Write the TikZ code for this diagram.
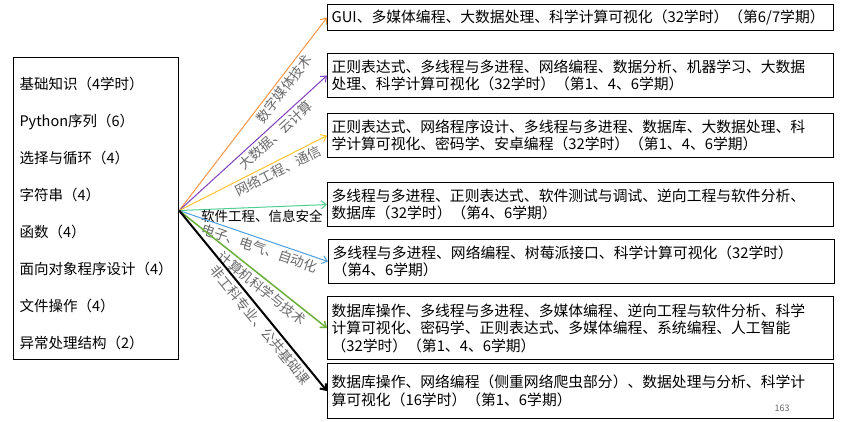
\documentclass[tikz,border=0pt]{standalone}
\usepackage{fontspec}
\setmainfont{Noto Sans CJK SC}
\usetikzlibrary{arrows.meta}
\definecolor{corange}{HTML}{F79646}
\definecolor{cpurple}{HTML}{8040C0}
\definecolor{cyellow}{HTML}{FFC52F}
\definecolor{cmint}{HTML}{50D090}
\definecolor{cblue}{HTML}{4EA0E0}
\definecolor{cgreen}{HTML}{6AAF3A}
\definecolor{lblgray}{HTML}{6A6A6A}
\tikzset{
  box/.style={draw=black, line width=1.1pt, anchor=north west, minimum width=506pt,
    text width=498pt, align=left, inner xsep=4pt, inner ysep=2pt,
    font=\fontsize{14.8}{17.5}\selectfont},
  leftbox/.style={draw=black, line width=1.1pt, anchor=north west, minimum width=164pt,
    minimum height=302pt, align=left, inner xsep=6pt,
    font=\fontsize{14.5}{37}\selectfont},
  arr/.style={-{Straight Barb[length=5pt,width=8pt]}, line width=1pt},
  lbl/.style={sloped, below, text=lblgray, font=\fontsize{13.5}{15}\selectfont, inner sep=2.5pt},
}
\begin{document}
\begin{tikzpicture}[x=1pt, y=-1pt]
\useasboundingbox (0,0) rectangle (842,422);
\fill[white] (0,0) rectangle (842,422);

\node[leftbox] (L) at (13,57) {\rule{0pt}{22pt}基础知识（4学时）\\Python序列（6）\\选择与循环（4）\\字符串（4）\\函数（4）\\面向对象程序设计（4）\\文件操作（4）\\异常处理结构（2）};

\node[box, minimum height=26pt] (b1) at (327,4) {GUI、多媒体编程、大数据处理、科学计算可视化（32学时）（第6/7学期）};
\node[box, minimum height=44pt] (b2) at (327,53) {正则表达式、多线程与多进程、网络编程、数据分析、机器学习、大数据\\处理、科学计算可视化（32学时）（第1、4、6学期）};
\node[box, minimum height=44pt] (b3) at (327,113) {正则表达式、网络程序设计、多线程与多进程、数据库、大数据处理、科\\学计算可视化、密码学、安卓编程（32学时）（第1、4、6学期）};
\node[box, minimum height=44pt] (b4) at (327,182) {多线程与多进程、正则表达式、软件测试与调试、逆向工程与软件分析、\\数据库（32学时）（第4、6学期）};
\node[box, minimum height=44pt] (b5) at (328,239) {多线程与多进程、网络编程、树莓派接口、科学计算可视化（32学时）\\（第4、6学期）};
\node[box, minimum height=63pt] (b6) at (327,296) {数据库操作、多线程与多进程、多媒体编程、逆向工程与软件分析、科学\\计算可视化、密码学、正则表达式、多媒体编程、系统编程、人工智能\\（32学时）（第1、4、6学期）};
\node[box, minimum height=55pt] (b7) at (327,363) {数据库操作、网络编程（侧重网络爬虫部分）、数据处理与分析、科学计\\算可视化（16学时）（第1、6学期）};
\node[text=lblgray, font=\fontsize{9}{10}\selectfont, inner sep=0pt] (pg) at (782,408) {163};

\coordinate (src) at ([yshift=-2pt]L.east);

\draw[arr, corange] (src) -- (b1.west) node[lbl, pos=0.66] {数字媒体技术};
\draw[arr, cpurple] (src) -- (b2.west) node[lbl, pos=0.61] {大数据、云计算};
\draw[arr, cyellow] (src) -- (b3.west) node[lbl, pos=0.64] {网络工程、通信};
\draw[arr, cmint] (src) -- (b4.west) node[below, pos=0.56, inner sep=2pt, text=black, font=\fontsize{13.5}{15}\selectfont] {软件工程、信息安全};
\draw[arr, cblue] (src) -- (b5.west) node[lbl, pos=0.56] {电子、电气、自动化};
\draw[arr, cgreen, line width=1.5pt] (src) -- (b6.west) node[lbl, pos=0.6] {计算机科学与技术};
\draw[arr, black, line width=2pt] (src) -- (b7.west) node[lbl, pos=0.6] {非工科专业、公共基础课};
\end{tikzpicture}
\end{document}
